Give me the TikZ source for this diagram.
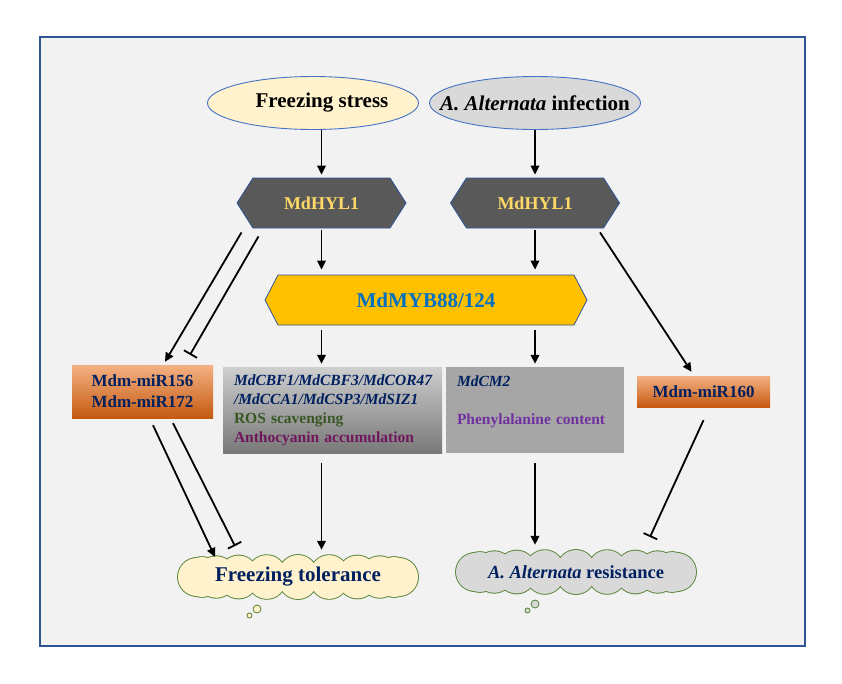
\documentclass[tikz,border=0pt]{standalone}
\usepackage{fontspec}
\setmainfont{Liberation Serif}
\usepackage{tikz}
\usetikzlibrary{positioning,arrows.meta,shapes.geometric,shapes.symbols,calc}
\definecolor{panelgray}{HTML}{F2F2F2}
\definecolor{panelblue}{HTML}{2F5597}
\definecolor{edgeblue}{HTML}{4472C4}
\definecolor{paleyellow}{HTML}{FFF2CC}
\definecolor{lightgray}{HTML}{D9D9D9}
\definecolor{hexgray}{HTML}{595959}
\definecolor{hexgold}{HTML}{FFD966}
\definecolor{mybgold}{HTML}{FFC000}
\definecolor{mybblue}{HTML}{0070C0}
\definecolor{navytext}{HTML}{002060}
\definecolor{rosgreen}{HTML}{385723}
\definecolor{anthopurple}{RGB}{112,22,92}
\definecolor{phepurple}{HTML}{7030A0}
\definecolor{cloudgreen}{HTML}{548235}
\definecolor{orangetop}{HTML}{F4B183}
\definecolor{orangebot}{HTML}{C55A11}
\newcommand{\nowidth}[1]{\makebox[0pt]{#1}}

\begin{document}
\begin{tikzpicture}[
    x=1pt, y=-1pt,
    panel/.style={draw=panelblue, line width=1.4pt, fill=panelgray,
        minimum width=765pt, minimum height=609pt, inner sep=0pt},
    stress/.style={ellipse, draw=edgeblue, line width=0.9pt, minimum width=211pt,
        minimum height=53pt, inner sep=0pt, font=\fontsize{21}{25}\selectfont\bfseries},
    hexa/.style={signal, signal to=west and east, signal pointer angle=115,
        draw=panelblue, line width=0.8pt, fill=hexgray, text=hexgold,
        minimum width=169pt, minimum height=50pt, inner sep=0pt,
        font=\fontsize{18}{22}\selectfont\bfseries},
    mybhex/.style={signal, signal to=west and east, signal pointer angle=125,
        draw=panelblue, line width=0.8pt, fill=mybgold, text=mybblue,
        minimum width=322pt, minimum height=50pt, inner sep=0pt,
        font=\fontsize{21}{25}\selectfont\bfseries},
    mirbox/.style={shade, top color=orangetop, bottom color=orangebot, text=navytext,
        align=center, inner sep=0pt, font=\fontsize{17}{21}\selectfont\bfseries},
    genebox/.style={align=left, inner xsep=11pt, inner ysep=0pt, minimum height=86pt,
        font=\fontsize{15.5}{19}\selectfont\bfseries},
    outcome/.style={text=navytext, inner sep=0pt, minimum width=240pt, minimum height=44pt},
    puff/.style={circle, draw=cloudgreen, line width=0.8pt, inner sep=0pt},
    arrow/.style={-{Triangle[length=9pt, width=8.5pt]}, line width=1.8pt, draw=black},
    block/.style={-{Bar[width=15pt]}, line width=1.8pt, draw=black}
]
\useasboundingbox (0,0) rectangle (842,683);
\node[panel] (frame) at (422.5,341.5) {};

% stresses
\node[stress, fill=paleyellow] (fs) at (313,103) {\nowidth{\hspace{18pt}Freezing stress}};
\node[stress, fill=lightgray] (ai) at (535,103) {\nowidth{\textit{A. Alternata} infection}};

% HYL1 and MYB
\node[hexa] (hylL) at (321.5,203) {MdHYL1};
\node[hexa] (hylR) at (535,203) {MdHYL1};
\node[mybhex] (myb) at (426,300) {MdMYB88/124};

% miRNAs
\node[mirbox, minimum width=141pt, minimum height=53pt] (mirA) at (142.5,391.5)
    {Mdm-miR156\\Mdm-miR172};
\node[mirbox, minimum width=133pt, minimum height=31pt] (mirB) at (703.5,391.5)
    {Mdm-miR160};

% target genes
\node[genebox, shade, top color=black!19, bottom color=black!53, text width=197pt]
    (boxL) at (332.5,410) {{\color{navytext}\itshape MdCBF1/MdCBF3/MdCOR47}\\
    {\color{navytext}\itshape /MdCCA1/MdCSP3/MdSIZ1}\\
    {\color{rosgreen}ROS scavenging}\\
    {\color{anthopurple}Anthocyanin accumulation}};
\node[genebox, fill=black!35, text width=156pt] (boxR) at (535,410)
    {{\color{navytext}\itshape MdCM2}\\ \mbox{}\\
    {\color{phepurple}Phenylalanine content}\\ \mbox{}};

% cloud outlines: stroked puffs first, then filled over
\foreach \cx/\cy/\cfill in {298/577/paleyellow, 576/572/lightgray} {
  \foreach \t in {0,18,...,342}
    \draw[cloudgreen, line width=1.8pt] ({\cx+101*cos(\t)},{\cy+3*sin(\t)}) circle (19pt);
  \foreach \t in {0,18,...,342}
    \fill[\cfill] ({\cx+101*cos(\t)},{\cy+3*sin(\t)}) circle (19pt);
}

% outcomes
\node[outcome, font=\fontsize{21}{25}\selectfont\bfseries]
    (ftol) at (298,577) {Freezing tolerance};
\node[outcome, font=\fontsize{18.5}{22}\selectfont\bfseries]
    (ares) at (576,572) {\textit{A. Alternata} resistance};
\node[puff, fill=paleyellow, minimum size=8pt] (pa1) at (257,609) {};
\node[puff, fill=paleyellow, minimum size=5pt] (pa2) at (249.5,615.5) {};
\node[puff, fill=lightgray, minimum size=8pt] (pb1) at (535,604) {};
\node[puff, fill=lightgray, minimum size=5pt] (pb2) at (527.5,610.5) {};

% connectors
\draw[arrow, shorten >=3pt] (hylL |- fs.south) -- (hylL.north);
\draw[arrow, shorten >=3pt] (ai.south -| hylR) -- (hylR.north);
\draw[arrow, shorten <=2pt, shorten >=5pt] (hylL.south) -- (hylL |- myb.north);
\draw[arrow, shorten <=2pt, shorten >=5pt] (hylR.south) -- (hylR |- myb.north);
\draw[arrow, shorten <=5pt, shorten >=3pt] (hylL |- myb.south) -- (hylL |- boxL.north);
\draw[arrow, shorten <=5pt, shorten >=3pt] (hylR |- myb.south) -- (hylR |- boxR.north);
\draw[arrow, shorten <=10pt, shorten >=5pt] (hylL |- boxL.south) -- (hylL |- ftol.north);
\draw[arrow, shorten <=10pt, shorten >=5pt] (hylR |- boxR.south) -- (hylR |- ares.north);
\draw[arrow] ([shift={(-80pt,-4pt)}]hylL.south) -- ([shift={(22.5pt,3pt)}]mirA.north);
\draw[block] ([shift={(-63pt,-8pt)}]hylL.south) -- ([shift={(47.5pt,10pt)}]mirA.north);
\draw[arrow] ([shift={(65pt,-4pt)}]hylR.south) -- ([shift={(-12pt,4pt)}]mirB.north);
\draw[arrow] ([shift={(10.5pt,-7pt)}]mirA.south) -- ([shift={(-83pt,20pt)}]ftol.center);
\draw[block] ([shift={(30.5pt,-5pt)}]mirA.south) -- ([shift={(-63pt,31pt)}]ftol.center);
\draw[block] ([shift={(0pt,-13pt)}]mirB.south) -- ([shift={(74pt,35pt)}]ares.center);
\end{tikzpicture}
\end{document}
